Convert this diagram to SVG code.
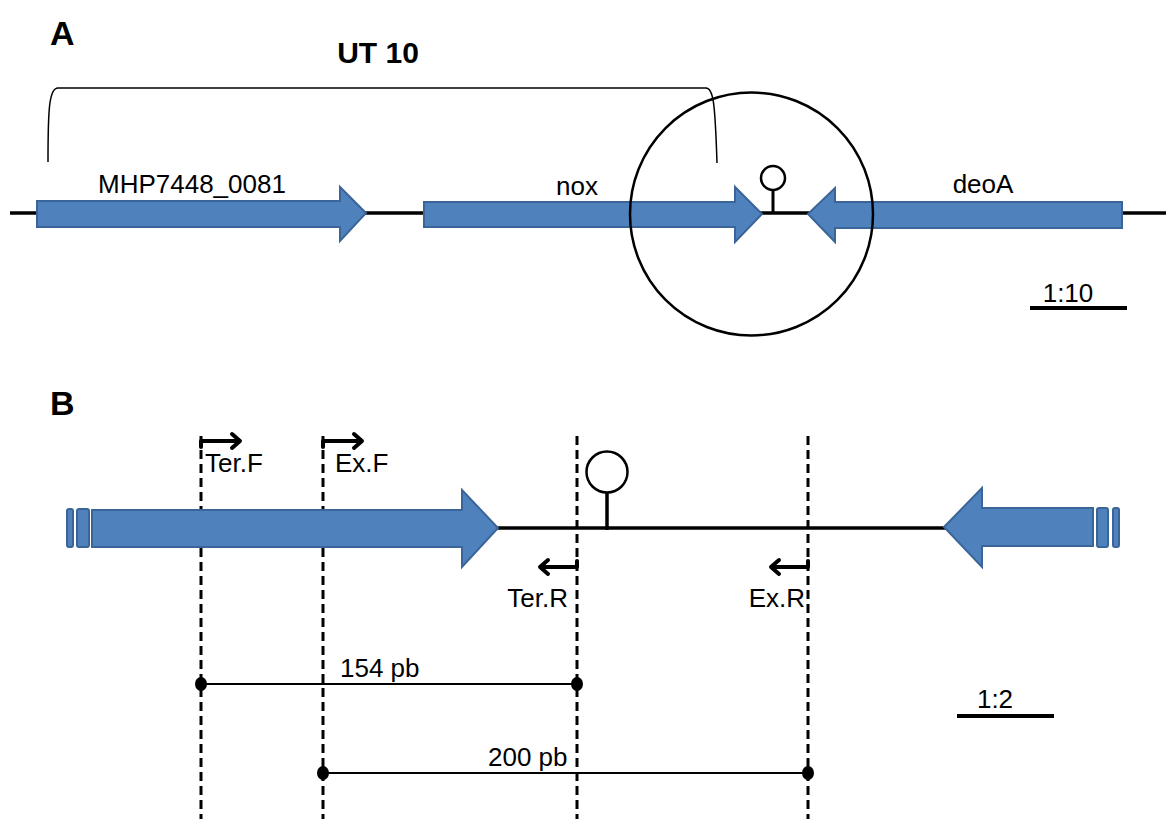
<svg xmlns="http://www.w3.org/2000/svg" width="1166" height="819" viewBox="0 0 1166 819">
<style>
text{font-family:"Liberation Sans",Arial,sans-serif;fill:#000}
.lbl{font-size:26px}
.bold{font-weight:bold}
.gene{fill:#4F81BD;stroke:#3B6598;stroke-width:2;stroke-linejoin:miter}
.dna{stroke:#000;stroke-width:3.5;fill:none}
.thin{stroke:#000;stroke-width:1.5;fill:none}
.dash{stroke:#000;stroke-width:3;stroke-dasharray:9,5;fill:none}
.prim{stroke:#000;stroke-width:4;fill:none;stroke-linecap:round;stroke-linejoin:round}
.scale{stroke:#000;stroke-width:4}
.dot{fill:#000}
.term{fill:#fff;stroke:#000;stroke-width:2.5}
</style>
<rect width="1166" height="819" fill="#fff"/>

<!-- Panel A -->
<text id="labelA" class="bold" x="50" y="45" font-size="34">A</text>
<g id="ut10">
<text class="bold" x="378" y="63" font-size="30" text-anchor="middle">UT 10</text>
<path class="thin" d="M48,162 C48,110 49,88 58,88 L706,88 C713,88 715,100 717,163"/>
</g>
<g id="connectorsA">
<line class="dna" x1="10" y1="213" x2="40" y2="213"/>
<line class="dna" x1="364" y1="213" x2="426" y2="213"/>
<line class="dna" x1="760" y1="213" x2="810" y2="213" stroke-width="4"/>
<line class="dna" x1="1120" y1="213" x2="1166" y2="213"/>
</g>
<g id="gene_MHP7448_0081">
<polygon class="gene" points="37,201 340,201 340,187 366,213 340,241 340,227 37,227"/>
<text class="lbl" x="98" y="193">MHP7448_0081</text>
</g>
<g id="gene_nox">
<polygon class="gene" points="424,202 735,202 735,187 762,214 735,242 735,227 424,227"/>
<text class="lbl" x="577" y="195" text-anchor="middle">nox</text>
</g>
<g id="terminatorA">
<line x1="773" y1="190" x2="773" y2="213" stroke="#000" stroke-width="3"/>
<circle class="term" cx="773" cy="178" r="12"/>
</g>
<g id="gene_deoA">
<polygon class="gene" points="808,214 835,188 835,202 1122,202 1122,228 835,228 835,242"/>
<text class="lbl" x="983" y="193" text-anchor="middle">deoA</text>
</g>
<g id="zoomCircle">
<circle cx="751.5" cy="214" r="121.5" fill="none" stroke="#000" stroke-width="2.5"/>
</g>
<g id="scaleA">
<text class="lbl" x="1068" y="302" text-anchor="middle">1:10</text>
<line class="scale" x1="1030" y1="308" x2="1127" y2="308"/>
</g>

<!-- Panel B -->
<text id="labelB" class="bold" x="50" y="415" font-size="34">B</text>
<g id="connectorsB">
<line class="dna" x1="496" y1="528" x2="946" y2="528"/>
<line class="dash" x1="201" y1="436" x2="201" y2="819"/>
<line class="dash" x1="323" y1="436" x2="323" y2="819"/>
<line class="dash" x1="577" y1="436" x2="577" y2="819"/>
<line class="dash" x1="808" y1="436" x2="808" y2="819"/>
</g>
<g id="geneB_left">
<rect class="gene" x="67" y="509" width="6" height="38" rx="2"/>
<rect class="gene" x="77" y="509" width="12" height="38" rx="2"/>
<polygon class="gene" points="92,510 462,510 462,490 498,528 462,567 462,547 92,547"/>
</g>
<g id="geneB_right">
<polygon class="gene" points="944,527 982,488 982,508 1093,508 1093,546 982,546 982,567"/>
<rect class="gene" x="1097" y="508" width="11" height="39" rx="2"/>
<rect class="gene" x="1113" y="508" width="6" height="39" rx="2"/>
</g>
<g id="terminatorB">
<line x1="607" y1="492" x2="607" y2="530" stroke="#000" stroke-width="3.5"/>
<circle class="term" cx="607" cy="472" r="20.5"/>
</g>
<g id="primer_TerF">
<path class="prim" d="M201,447 V441 H239"/>
<polyline class="prim" points="232,434 240,441 232,448"/>
<text class="lbl" x="205" y="472">Ter.F</text>
</g>
<g id="primer_ExF">
<path class="prim" d="M323,447 V441 H361"/>
<polyline class="prim" points="354,434 362,441 354,448"/>
<text class="lbl" x="335" y="472">Ex.F</text>
</g>
<g id="primer_TerR">
<path class="prim" d="M577,561 V567 H541"/>
<polyline class="prim" points="548,560 540,567 548,574"/>
<text class="lbl" x="568" y="607" text-anchor="end">Ter.R</text>
</g>
<g id="primer_ExR">
<path class="prim" d="M808,561 V567 H772"/>
<polyline class="prim" points="779,560 771,567 779,574"/>
<text class="lbl" x="805" y="607" text-anchor="end">Ex.R</text>
</g>
<g id="amplicon154">
<line x1="201" y1="684" x2="577" y2="684" stroke="#000" stroke-width="2"/>
<ellipse class="dot" cx="201" cy="684" rx="6" ry="7"/>
<ellipse class="dot" cx="577" cy="684" rx="6" ry="7"/>
<text class="lbl" x="340" y="677">154 pb</text>
</g>
<g id="amplicon200">
<line x1="323" y1="773" x2="808" y2="773" stroke="#000" stroke-width="2"/>
<ellipse class="dot" cx="323" cy="773" rx="6" ry="7"/>
<ellipse class="dot" cx="808" cy="773" rx="6" ry="7"/>
<text class="lbl" x="488" y="766">200 pb</text>
</g>
<g id="scaleB">
<text class="lbl" x="995" y="708" text-anchor="middle">1:2</text>
<line class="scale" x1="957" y1="716" x2="1054" y2="716"/>
</g>
</svg>
